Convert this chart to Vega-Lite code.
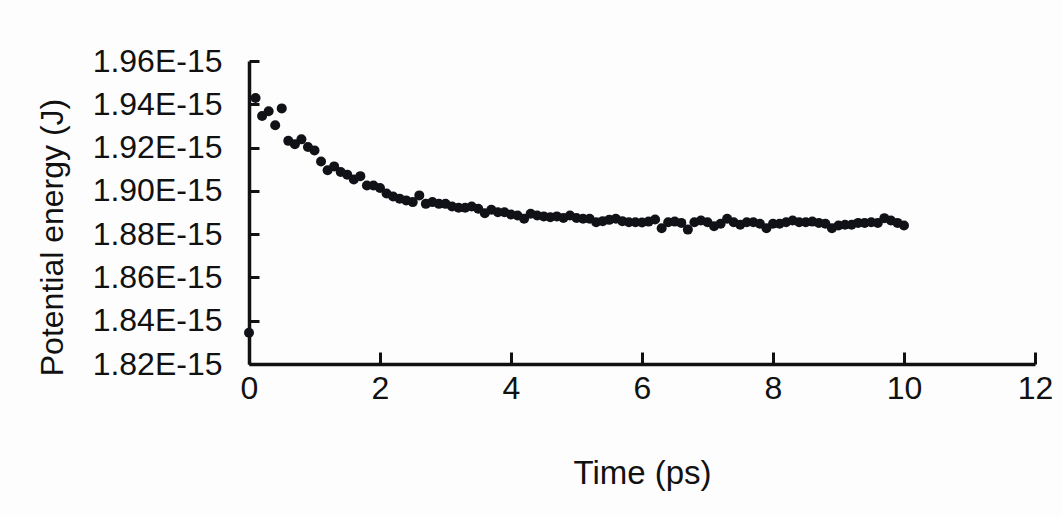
{
  "$schema": "https://vega.github.io/schema/vega-lite/v6.json",
  "width": 786,
  "height": 303,
  "autosize": {"type": "none"},
  "padding": {"left": 249, "top": 61, "right": 27, "bottom": 152},
  "background": "#fdfdfd",
  "config": {
    "view": {"stroke": null},
    "font": "Liberation Sans",
    "axis": {
      "domainColor": "#111111",
      "domainWidth": 3.5,
      "tickColor": "#111111",
      "tickWidth": 3,
      "grid": false,
      "labelFont": "Liberation Sans",
      "labelFontSize": 32,
      "labelColor": "#111111",
      "labelFlush": false,
      "titleFont": "Liberation Sans",
      "titleFontSize": 32,
      "titleFontWeight": "normal",
      "titleColor": "#111111"
    }
  },
  "data": {
    "values": [
      {"t": 0.0, "E": 1.8344e-15},
      {"t": 0.1, "E": 1.9429e-15},
      {"t": 0.2, "E": 1.9346e-15},
      {"t": 0.3, "E": 1.9368e-15},
      {"t": 0.4, "E": 1.9303e-15},
      {"t": 0.5, "E": 1.9381e-15},
      {"t": 0.6, "E": 1.9231e-15},
      {"t": 0.7, "E": 1.9215e-15},
      {"t": 0.8, "E": 1.9238e-15},
      {"t": 0.9, "E": 1.9203e-15},
      {"t": 1.0, "E": 1.9187e-15},
      {"t": 1.1, "E": 1.9136e-15},
      {"t": 1.2, "E": 1.9095e-15},
      {"t": 1.3, "E": 1.9113e-15},
      {"t": 1.4, "E": 1.9087e-15},
      {"t": 1.5, "E": 1.9075e-15},
      {"t": 1.6, "E": 1.9053e-15},
      {"t": 1.7, "E": 1.9068e-15},
      {"t": 1.8, "E": 1.9025e-15},
      {"t": 1.9, "E": 1.9025e-15},
      {"t": 2.0, "E": 1.9013e-15},
      {"t": 2.1, "E": 1.8988e-15},
      {"t": 2.2, "E": 1.8974e-15},
      {"t": 2.3, "E": 1.8964e-15},
      {"t": 2.4, "E": 1.8956e-15},
      {"t": 2.5, "E": 1.8948e-15},
      {"t": 2.6, "E": 1.8979e-15},
      {"t": 2.7, "E": 1.8940e-15},
      {"t": 2.8, "E": 1.8948e-15},
      {"t": 2.9, "E": 1.8940e-15},
      {"t": 3.0, "E": 1.8940e-15},
      {"t": 3.1, "E": 1.8928e-15},
      {"t": 3.2, "E": 1.8922e-15},
      {"t": 3.3, "E": 1.8922e-15},
      {"t": 3.4, "E": 1.8928e-15},
      {"t": 3.5, "E": 1.8917e-15},
      {"t": 3.6, "E": 1.8897e-15},
      {"t": 3.7, "E": 1.8913e-15},
      {"t": 3.8, "E": 1.8901e-15},
      {"t": 3.9, "E": 1.8901e-15},
      {"t": 4.0, "E": 1.8891e-15},
      {"t": 4.1, "E": 1.8886e-15},
      {"t": 4.2, "E": 1.8871e-15},
      {"t": 4.3, "E": 1.8894e-15},
      {"t": 4.4, "E": 1.8886e-15},
      {"t": 4.5, "E": 1.8882e-15},
      {"t": 4.6, "E": 1.8878e-15},
      {"t": 4.7, "E": 1.8882e-15},
      {"t": 4.8, "E": 1.8875e-15},
      {"t": 4.9, "E": 1.8886e-15},
      {"t": 5.0, "E": 1.8875e-15},
      {"t": 5.1, "E": 1.8871e-15},
      {"t": 5.2, "E": 1.8871e-15},
      {"t": 5.3, "E": 1.8855e-15},
      {"t": 5.4, "E": 1.8860e-15},
      {"t": 5.5, "E": 1.8866e-15},
      {"t": 5.6, "E": 1.8871e-15},
      {"t": 5.7, "E": 1.8860e-15},
      {"t": 5.8, "E": 1.8855e-15},
      {"t": 5.9, "E": 1.8855e-15},
      {"t": 6.0, "E": 1.8854e-15},
      {"t": 6.1, "E": 1.8858e-15},
      {"t": 6.2, "E": 1.8868e-15},
      {"t": 6.3, "E": 1.8827e-15},
      {"t": 6.4, "E": 1.8855e-15},
      {"t": 6.5, "E": 1.8858e-15},
      {"t": 6.6, "E": 1.8852e-15},
      {"t": 6.7, "E": 1.8821e-15},
      {"t": 6.8, "E": 1.8855e-15},
      {"t": 6.9, "E": 1.8863e-15},
      {"t": 7.0, "E": 1.8855e-15},
      {"t": 7.1, "E": 1.8837e-15},
      {"t": 7.2, "E": 1.8848e-15},
      {"t": 7.3, "E": 1.8871e-15},
      {"t": 7.4, "E": 1.8855e-15},
      {"t": 7.5, "E": 1.8843e-15},
      {"t": 7.6, "E": 1.8855e-15},
      {"t": 7.7, "E": 1.8855e-15},
      {"t": 7.8, "E": 1.8848e-15},
      {"t": 7.9, "E": 1.8827e-15},
      {"t": 8.0, "E": 1.8848e-15},
      {"t": 8.1, "E": 1.8848e-15},
      {"t": 8.2, "E": 1.8855e-15},
      {"t": 8.3, "E": 1.8863e-15},
      {"t": 8.4, "E": 1.8855e-15},
      {"t": 8.5, "E": 1.8855e-15},
      {"t": 8.6, "E": 1.8858e-15},
      {"t": 8.7, "E": 1.8852e-15},
      {"t": 8.8, "E": 1.8848e-15},
      {"t": 8.9, "E": 1.8827e-15},
      {"t": 9.0, "E": 1.8840e-15},
      {"t": 9.1, "E": 1.8843e-15},
      {"t": 9.2, "E": 1.8843e-15},
      {"t": 9.3, "E": 1.8852e-15},
      {"t": 9.4, "E": 1.8852e-15},
      {"t": 9.5, "E": 1.8855e-15},
      {"t": 9.6, "E": 1.8852e-15},
      {"t": 9.7, "E": 1.8874e-15},
      {"t": 9.8, "E": 1.8863e-15},
      {"t": 9.9, "E": 1.8852e-15},
      {"t": 10.0, "E": 1.8840e-15}
    ]
  },
  "mark": {"type": "point", "filled": true, "shape": "circle", "size": 100, "color": "#111118", "opacity": 1},
  "encoding": {
    "x": {
      "field": "t",
      "type": "quantitative",
      "scale": {"domain": [0, 12], "nice": false, "zero": false},
      "axis": {
        "values": [0, 2, 4, 6, 8, 10, 12],
        "format": "d",
        "tickSize": -12,
        "labelPadding": 21,
        "labelBaseline": "top",
        "title": "Time (ps)",
        "titleFontSize": 33,
        "titleX": 393,
        "titleY": 119,
        "titleAlign": "center",
        "titleBaseline": "alphabetic"
      }
    },
    "y": {
      "field": "E",
      "type": "quantitative",
      "scale": {"domain": [1.82e-15, 1.96e-15], "nice": false, "zero": false},
      "axis": {
        "values": [1.82e-15, 1.84e-15, 1.86e-15, 1.88e-15, 1.90e-15, 1.92e-15, 1.94e-15, 1.96e-15],
        "labelExpr": "replace(format(datum.value, '.2e'), 'e', 'E')",
        "tickSize": -10,
        "labelPadding": 37,
        "labelAlign": "right",
        "labelBaseline": "middle",
        "title": "Potential energy (J)",
        "titleX": -187,
        "titleY": 176,
        "titleAngle": -90,
        "titleAlign": "center",
        "titleBaseline": "alphabetic"
      }
    }
  }
}
